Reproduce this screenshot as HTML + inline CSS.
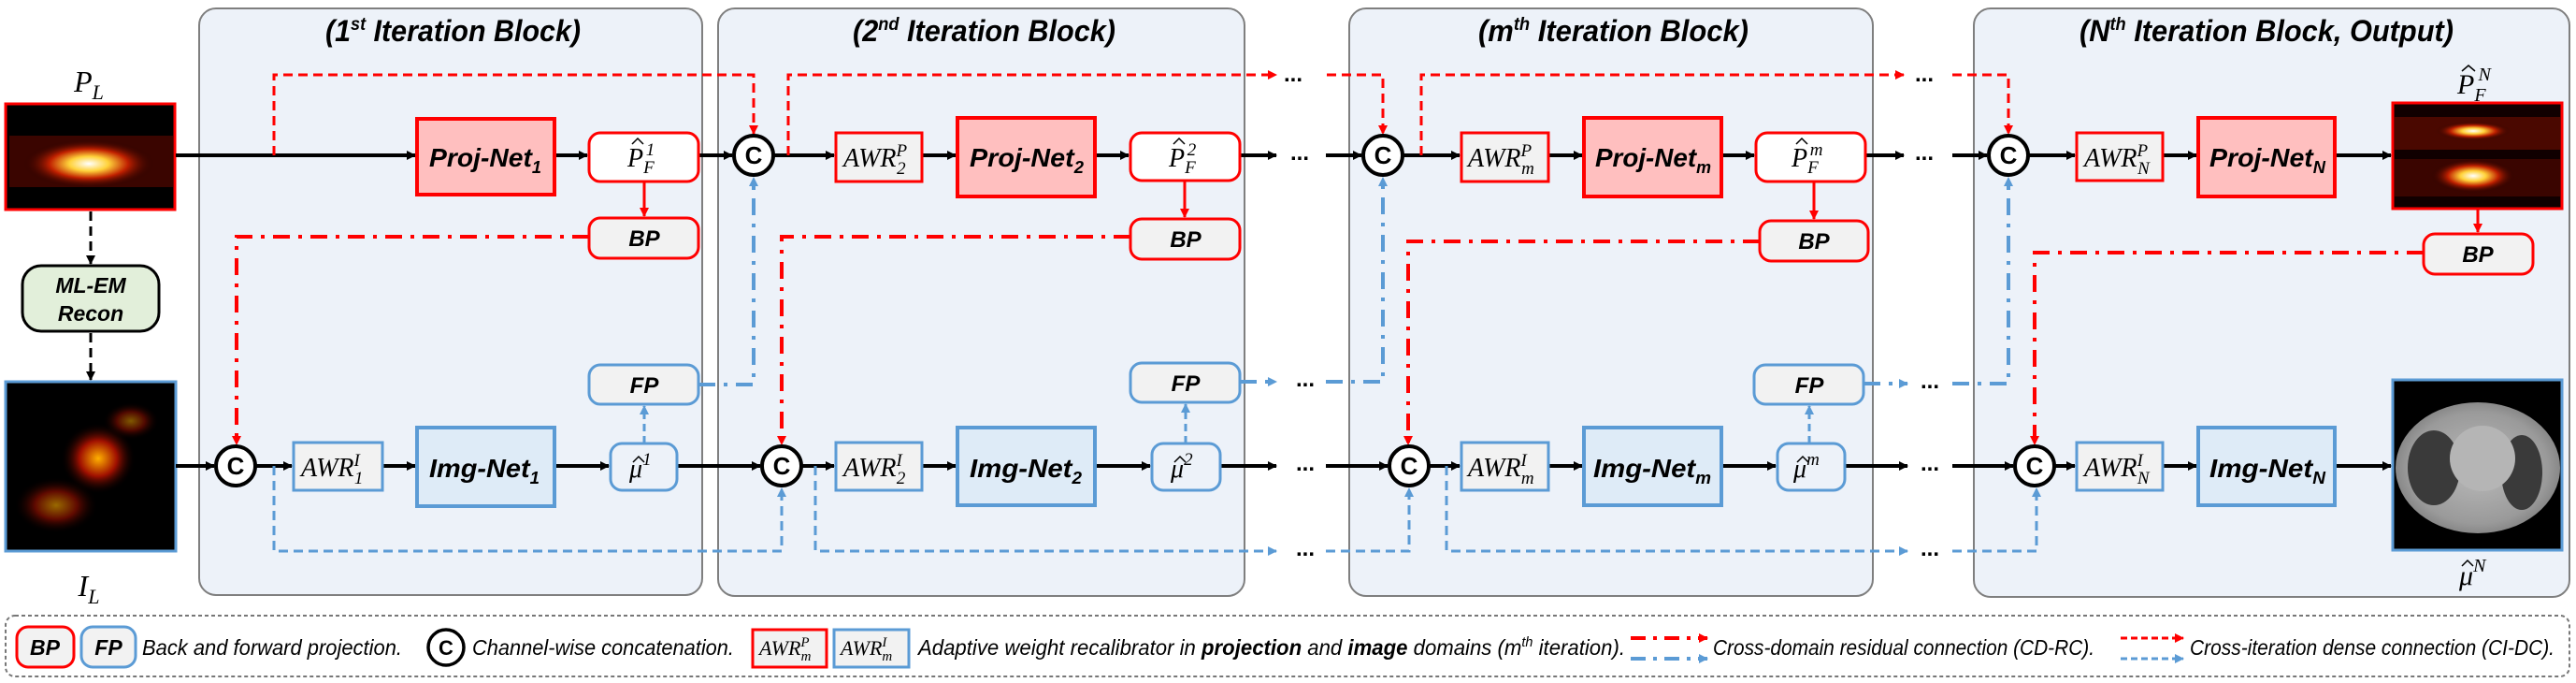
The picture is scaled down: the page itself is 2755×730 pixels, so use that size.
<!DOCTYPE html>
<html><head><meta charset="utf-8"><style>
html,body{margin:0;padding:0;background:#fff;}
svg{display:block;}
.t{font-family:"Liberation Sans",sans-serif;font-weight:bold;font-style:italic;}
.c{font-family:"Liberation Sans",sans-serif;font-weight:bold;font-style:normal;}
.m{font-family:"Liberation Serif",serif;font-style:italic;}
.l{font-family:"Liberation Sans",sans-serif;font-style:italic;font-size:23px;}
</style></head><body>
<svg width="2755" height="730" viewBox="0 0 2755 730" xmlns="http://www.w3.org/2000/svg">
<defs>
<marker id="ak" markerWidth="10" markerHeight="10" refX="9" refY="5" orient="auto" markerUnits="userSpaceOnUse"><path d="M0,0 L10,5 L0,10 z" fill="#000"/></marker>
<marker id="ar" markerWidth="10" markerHeight="10" refX="9" refY="5" orient="auto" markerUnits="userSpaceOnUse"><path d="M0,0 L10,5 L0,10 z" fill="#f00"/></marker>
<marker id="ab" markerWidth="10" markerHeight="10" refX="9" refY="5" orient="auto" markerUnits="userSpaceOnUse"><path d="M0,0 L10,5 L0,10 z" fill="#5b9bd5"/></marker>
<radialGradient id="hot" cx="0.5" cy="0.5" r="0.5"><stop offset="0" stop-color="#fff"/><stop offset="0.3" stop-color="#ffd23a"/><stop offset="0.6" stop-color="#c02000"/><stop offset="1" stop-color="#200000" stop-opacity="0"/></radialGradient>
<radialGradient id="hot2" cx="0.5" cy="0.5" r="0.5"><stop offset="0" stop-color="#ffb000"/><stop offset="0.5" stop-color="#a01000"/><stop offset="1" stop-color="#000" stop-opacity="0"/></radialGradient>
<radialGradient id="ct" cx="0.5" cy="0.5" r="0.5"><stop offset="0" stop-color="#bbb"/><stop offset="0.85" stop-color="#9a9a9a"/><stop offset="1" stop-color="#888"/></radialGradient>
</defs>

<!-- blocks -->
<g fill="#edf2f9" stroke="#7f7f7f" stroke-width="2">
<rect x="213" y="9" width="538" height="627" rx="18"/>
<rect x="768" y="9" width="563" height="628" rx="18"/>
<rect x="1443" y="9" width="560" height="628" rx="18"/>
<rect x="2111" y="9" width="637" height="629" rx="18"/>
</g>
<g class="t" font-size="32">
<text x="348" y="44" textLength="273" lengthAdjust="spacingAndGlyphs">(1<tspan font-size="19" dy="-12">st</tspan><tspan dy="12"> Iteration Block)</tspan></text>
<text x="912" y="44" textLength="281" lengthAdjust="spacingAndGlyphs">(2<tspan font-size="19" dy="-12">nd</tspan><tspan dy="12"> Iteration Block)</tspan></text>
<text x="1581" y="44" textLength="289" lengthAdjust="spacingAndGlyphs">(m<tspan font-size="19" dy="-12">th</tspan><tspan dy="12"> Iteration Block)</tspan></text>
<text x="2224" y="44" textLength="400" lengthAdjust="spacingAndGlyphs">(N<tspan font-size="19" dy="-12">th</tspan><tspan dy="12"> Iteration Block, Output)</tspan></text>
</g>

<!-- input images -->
<rect x="6" y="111" width="181" height="113" fill="#000" stroke="#f00" stroke-width="3"/>
<rect x="10" y="145" width="175" height="55" fill="#3a0500"/>
<ellipse cx="95" cy="175" rx="70" ry="26" fill="url(#hot)"/>
<text x="95" y="98" class="m" font-size="32" text-anchor="middle">P<tspan font-size="22" dy="8">L</tspan></text>
<rect x="6" y="408" width="182" height="181" fill="#000" stroke="#5b9bd5" stroke-width="3"/>
<ellipse cx="105" cy="490" rx="40" ry="38" fill="url(#hot2)"/>
<ellipse cx="60" cy="540" rx="45" ry="30" fill="url(#hot2)" opacity="0.6"/>
<ellipse cx="140" cy="450" rx="30" ry="20" fill="url(#hot2)" opacity="0.5"/>
<text x="95" y="637" class="m" font-size="32" text-anchor="middle">I<tspan font-size="22" dy="8">L</tspan></text>

<rect x="24" y="284" width="146" height="70" rx="20" fill="#e2efda" stroke="#000" stroke-width="3"/>
<text x="97" y="313" class="t" font-size="23" text-anchor="middle">ML-EM</text>
<text x="97" y="343" class="t" font-size="23" text-anchor="middle">Recon</text>
<g stroke="#000" stroke-width="3" stroke-dasharray="10 6" fill="none">
<line x1="97" y1="226" x2="97" y2="282" marker-end="url(#ak)"/>
<line x1="97" y1="356" x2="97" y2="406" marker-end="url(#ak)"/>
</g>

<!-- output images -->
<rect x="2559" y="110" width="181" height="113" fill="#100000" stroke="#f00" stroke-width="3"/>
<rect x="2561" y="125" width="177" height="35" fill="#4a0800"/>
<rect x="2561" y="170" width="177" height="40" fill="#3a0500"/>
<ellipse cx="2645" cy="140" rx="40" ry="10" fill="url(#hot)"/>
<ellipse cx="2645" cy="188" rx="45" ry="18" fill="url(#hot)"/>
<text x="2628" y="100" class="m" font-size="30">P<tspan font-size="20" dy="8">F</tspan><tspan font-size="20" dx="-8" dy="-22">N</tspan></text>
<path d="M2633,76 L2640,70 L2647,76" fill="none" stroke="#000" stroke-width="1.5"/>
<rect x="2559" y="406" width="181" height="182" fill="#000" stroke="#5b9bd5" stroke-width="3"/>
<ellipse cx="2650" cy="500" rx="88" ry="70" fill="url(#ct)"/>
<ellipse cx="2603" cy="500" rx="28" ry="40" fill="#3a3a3a"/>
<ellipse cx="2697" cy="505" rx="22" ry="40" fill="#3a3a3a"/>
<ellipse cx="2655" cy="490" rx="35" ry="35" fill="#b5b5b5"/>
<text x="2630" y="625" class="m" font-size="30">μ<tspan font-size="20" dy="-14">N</tspan></text>
<path d="M2633,605 L2639,599 L2645,605" fill="none" stroke="#000" stroke-width="1.5"/>

<!-- main black lines -->
<g stroke="#000" stroke-width="4" fill="none" marker-end="url(#ak)">
<line x1="188" y1="166" x2="444" y2="166"/>
<line x1="593" y1="166" x2="628" y2="166"/>
<line x1="747" y1="166" x2="783" y2="166"/>
<line x1="827" y1="166" x2="892" y2="166"/>
<line x1="986" y1="166" x2="1022" y2="166"/>
<line x1="1171" y1="166" x2="1207" y2="166"/>
<line x1="1326" y1="166" x2="1365" y2="166"/>
<line x1="1418" y1="166" x2="1456" y2="166"/>
<line x1="1500" y1="166" x2="1561" y2="166"/>
<line x1="1656" y1="166" x2="1692" y2="166"/>
<line x1="1841" y1="166" x2="1876" y2="166"/>
<line x1="1995" y1="166" x2="2036" y2="166"/>
<line x1="2088" y1="166" x2="2125" y2="166"/>
<line x1="2169" y1="166" x2="2219" y2="166"/>
<line x1="2313" y1="166" x2="2349" y2="166"/>
<line x1="2497" y1="166" x2="2557" y2="166"/>
<line x1="188" y1="498" x2="229" y2="498"/>
<line x1="273" y1="498" x2="312" y2="498"/>
<line x1="409" y1="498" x2="444" y2="498"/>
<line x1="593" y1="498" x2="651" y2="498"/>
<line x1="724" y1="498" x2="813" y2="498"/>
<line x1="857" y1="498" x2="892" y2="498"/>
<line x1="986" y1="498" x2="1022" y2="498"/>
<line x1="1171" y1="498" x2="1230" y2="498"/>
<line x1="1305" y1="498" x2="1365" y2="498"/>
<line x1="1418" y1="498" x2="1484" y2="498"/>
<line x1="1528" y1="498" x2="1561" y2="498"/>
<line x1="1656" y1="498" x2="1692" y2="498"/>
<line x1="1841" y1="498" x2="1899" y2="498"/>
<line x1="1973" y1="498" x2="2040" y2="498"/>
<line x1="2088" y1="498" x2="2153" y2="498"/>
<line x1="2197" y1="498" x2="2219" y2="498"/>
<line x1="2313" y1="498" x2="2349" y2="498"/>
<line x1="2497" y1="498" x2="2557" y2="498"/>
</g>

<!-- red dashed CI-DC -->
<g stroke="#f00" stroke-width="3" stroke-dasharray="10 6" fill="none" marker-end="url(#ar)">
<polyline points="293,166 293,80 806,80 806,143"/>
<polyline points="843,166 843,80 1365,80"/>
<polyline points="1419,80 1479,80 1479,143"/>
<polyline points="1520,166 1520,80 2036,80"/>
<polyline points="2088,80 2148,80 2148,143"/>
</g>
<g stroke="#f00" stroke-width="3" fill="none" marker-end="url(#ar)">
<line x1="689" y1="194" x2="689" y2="231"/>
<line x1="1267" y1="193" x2="1267" y2="232"/>
<line x1="1940" y1="195" x2="1940" y2="234"/>
<line x1="2650" y1="224" x2="2650" y2="248"/>
</g>
<!-- red dash-dot CD-RC -->
<g stroke="#f00" stroke-width="4" stroke-dasharray="18 9 4 9" fill="none" marker-end="url(#ar)">
<polyline points="630,253 253,253 253,475"/>
<polyline points="1209,253 836,253 836,475"/>
<polyline points="1882,258 1506,258 1506,475"/>
<polyline points="2592,270 2176,270 2176,475"/>
</g>
<!-- blue dash-dot -->
<g stroke="#5b9bd5" stroke-width="4" stroke-dasharray="18 9 4 9" fill="none" marker-end="url(#ab)">
<polyline points="747,411 806,411 806,190"/>
<line x1="1326" y1="408" x2="1365" y2="408"/>
<polyline points="1418,408 1479,408 1479,190"/>
<line x1="1993" y1="410" x2="2040" y2="410"/>
<polyline points="2088,410 2148,410 2148,190"/>
</g>
<g stroke="#5b9bd5" stroke-width="3" stroke-dasharray="8 5" fill="none" marker-end="url(#ab)">
<line x1="689" y1="474" x2="689" y2="434"/>
<line x1="1268" y1="474" x2="1268" y2="432"/>
<line x1="1935" y1="474" x2="1935" y2="434"/>
</g>
<!-- blue dashed bottom -->
<g stroke="#5b9bd5" stroke-width="3" stroke-dasharray="10 6" fill="none" marker-end="url(#ab)">
<polyline points="293,498 293,589 836,589 836,522"/>
<polyline points="872,498 872,589 1365,589"/>
<polyline points="1418,589 1507,589 1507,522"/>
<polyline points="1547,498 1547,589 2040,589"/>
<polyline points="2088,589 2178,589 2178,522"/>
</g>

<!-- ellipsis -->
<g class="c" font-size="24" text-anchor="middle">
<text x="1383" y="87">...</text><text x="2058" y="87">...</text>
<text x="1390" y="171">...</text><text x="2058" y="171">...</text>
<text x="1396" y="413">...</text><text x="2064" y="415">...</text>
<text x="1396" y="503">...</text><text x="2064" y="503">...</text>
<text x="1396" y="594">...</text><text x="2064" y="594">...</text>
</g>

<!-- C circles -->
<g fill="#fff" stroke="#000" stroke-width="4">
<circle cx="252" cy="498" r="21"/><circle cx="806" cy="166" r="21"/><circle cx="836" cy="498" r="21"/>
<circle cx="1479" cy="166" r="21"/><circle cx="1507" cy="498" r="21"/>
<circle cx="2148" cy="166" r="21"/><circle cx="2176" cy="498" r="21"/>
</g>
<g class="c" font-size="26" text-anchor="middle">
<text x="252" y="507">C</text><text x="806" y="175">C</text><text x="836" y="507">C</text>
<text x="1479" y="175">C</text><text x="1507" y="507">C</text>
<text x="2148" y="175">C</text><text x="2176" y="507">C</text>
</g>

<!-- Proj-Net / Img-Net -->
<g fill="#ffbfbf" stroke="#f00" stroke-width="4">
<rect x="446" y="127" width="147" height="81"/><rect x="1024" y="126" width="147" height="84"/>
<rect x="1694" y="126" width="147" height="84"/><rect x="2351" y="126" width="146" height="84"/>
</g>
<g fill="#deebf7" stroke="#5b9bd5" stroke-width="4">
<rect x="446" y="457" width="147" height="84"/><rect x="1024" y="457" width="147" height="83"/>
<rect x="1694" y="457" width="147" height="83"/><rect x="2351" y="457" width="146" height="83"/>
</g>
<g class="t" font-size="28">
<text x="459" y="178" textLength="120" lengthAdjust="spacingAndGlyphs">Proj-Net<tspan font-size="18" dy="7">1</tspan></text>
<text x="1037" y="178" textLength="122" lengthAdjust="spacingAndGlyphs">Proj-Net<tspan font-size="18" dy="7">2</tspan></text>
<text x="1706" y="178" textLength="124" lengthAdjust="spacingAndGlyphs">Proj-Net<tspan font-size="18" dy="7">m</tspan></text>
<text x="2363" y="178" textLength="124" lengthAdjust="spacingAndGlyphs">Proj-Net<tspan font-size="18" dy="7">N</tspan></text>
<text x="459" y="510" textLength="118" lengthAdjust="spacingAndGlyphs">Img-Net<tspan font-size="18" dy="7">1</tspan></text>
<text x="1037" y="510" textLength="120" lengthAdjust="spacingAndGlyphs">Img-Net<tspan font-size="18" dy="7">2</tspan></text>
<text x="1704" y="510" textLength="126" lengthAdjust="spacingAndGlyphs">Img-Net<tspan font-size="18" dy="7">m</tspan></text>
<text x="2363" y="510" textLength="124" lengthAdjust="spacingAndGlyphs">Img-Net<tspan font-size="18" dy="7">N</tspan></text>
</g>

<!-- AWR boxes -->
<g fill="#f2f2f2" stroke="#f00" stroke-width="3">
<rect x="894" y="142" width="92" height="52"/><rect x="1563" y="142" width="93" height="52"/><rect x="2221" y="142" width="92" height="51"/>
</g>
<g fill="#f2f2f2" stroke="#5b9bd5" stroke-width="3">
<rect x="314" y="473" width="95" height="51"/><rect x="894" y="473" width="92" height="51"/><rect x="1563" y="473" width="93" height="51"/><rect x="2221" y="473" width="92" height="51"/>
</g>
<g class="m" font-size="28">
<text x="322" y="509">AWR<tspan font-size="19" dy="-11">I</tspan><tspan font-size="19" dx="-6" dy="19">1</tspan></text>
<text x="902" y="178">AWR<tspan font-size="19" dy="-11">P</tspan><tspan font-size="19" dx="-11" dy="19">2</tspan></text>
<text x="902" y="509">AWR<tspan font-size="19" dy="-11">I</tspan><tspan font-size="19" dx="-6" dy="19">2</tspan></text>
<text x="1570" y="178">AWR<tspan font-size="19" dy="-11">P</tspan><tspan font-size="19" dx="-11" dy="19">m</tspan></text>
<text x="1570" y="509">AWR<tspan font-size="19" dy="-11">I</tspan><tspan font-size="19" dx="-6" dy="19">m</tspan></text>
<text x="2229" y="178">AWR<tspan font-size="19" dy="-11">P</tspan><tspan font-size="19" dx="-11" dy="19">N</tspan></text>
<text x="2229" y="509">AWR<tspan font-size="19" dy="-11">I</tspan><tspan font-size="19" dx="-6" dy="19">N</tspan></text>
</g>

<!-- P hat boxes -->
<g fill="#fff" stroke="#f00" stroke-width="3">
<rect x="630" y="142" width="117" height="52" rx="12"/><rect x="1209" y="142" width="117" height="51" rx="12"/><rect x="1878" y="142" width="117" height="52" rx="12"/>
</g>
<g class="m" font-size="28">
<text x="671" y="178">P<tspan font-size="19" dy="7">F</tspan><tspan font-size="19" dx="-9" dy="-19">1</tspan></text>
<text x="1250" y="178">P<tspan font-size="19" dy="7">F</tspan><tspan font-size="19" dx="-9" dy="-19">2</tspan></text>
<text x="1916" y="178">P<tspan font-size="19" dy="7">F</tspan><tspan font-size="19" dx="-9" dy="-19">m</tspan></text>
</g>
<g fill="none" stroke="#000" stroke-width="1.5">
<path d="M676,154 L682,148 L688,154"/><path d="M1255,154 L1261,148 L1267,154"/><path d="M1921,154 L1927,148 L1933,154"/>
</g>
<!-- mu hat boxes -->
<g fill="#edf2f9" stroke="#5b9bd5" stroke-width="3">
<rect x="653" y="474" width="71" height="50" rx="12"/><rect x="1232" y="474" width="73" height="50" rx="12"/><rect x="1901" y="474" width="72" height="50" rx="12"/>
</g>
<g class="m" font-size="28">
<text x="673" y="510">μ<tspan font-size="19" dy="-13">1</tspan></text>
<text x="1252" y="510">μ<tspan font-size="19" dy="-13">2</tspan></text>
<text x="1918" y="510">μ<tspan font-size="19" dy="-13">m</tspan></text>
</g>
<g fill="none" stroke="#000" stroke-width="1.5">
<path d="M677,494 L683,488 L689,494"/><path d="M1256,494 L1262,488 L1268,494"/><path d="M1922,494 L1928,488 L1934,494"/>
</g>

<!-- BP / FP -->
<g fill="#f2f2f2" stroke="#f00" stroke-width="3">
<rect x="630" y="233" width="117" height="43" rx="12"/><rect x="1209" y="234" width="117" height="43" rx="12"/>
<rect x="1882" y="236" width="116" height="43" rx="12"/><rect x="2592" y="250" width="117" height="43" rx="12"/>
</g>
<g fill="#f2f2f2" stroke="#5b9bd5" stroke-width="3">
<rect x="630" y="390" width="117" height="42" rx="12"/><rect x="1209" y="388" width="117" height="42" rx="12"/><rect x="1876" y="390" width="117" height="42" rx="12"/>
</g>
<g class="t" font-size="24" text-anchor="middle">
<text x="689" y="263">BP</text><text x="1268" y="264">BP</text><text x="1940" y="266">BP</text><text x="2650" y="280">BP</text>
<text x="689" y="420">FP</text><text x="1268" y="418">FP</text><text x="1935" y="420">FP</text>
</g>

<!-- legend -->
<rect x="6" y="658" width="2742" height="65" rx="10" fill="#fff" stroke="#777" stroke-width="2" stroke-dasharray="4 3"/>
<rect x="18" y="670" width="61" height="43" rx="12" fill="#f2f2f2" stroke="#f00" stroke-width="3"/>
<rect x="87" y="670" width="58" height="43" rx="12" fill="#f2f2f2" stroke="#5b9bd5" stroke-width="3"/>
<text x="48" y="700" class="t" font-size="23" text-anchor="middle">BP</text>
<text x="116" y="700" class="t" font-size="23" text-anchor="middle">FP</text>
<text x="152" y="700" class="l" textLength="278" lengthAdjust="spacingAndGlyphs">Back and forward projection.</text>
<circle cx="477" cy="692" r="19" fill="#fff" stroke="#000" stroke-width="3.5"/>
<text x="477" y="700" class="c" font-size="22" text-anchor="middle">C</text>
<text x="505" y="700" class="l" textLength="280" lengthAdjust="spacingAndGlyphs">Channel-wise concatenation.</text>
<rect x="805" y="673" width="79" height="40" fill="#f2f2f2" stroke="#f00" stroke-width="3"/>
<rect x="892" y="673" width="80" height="40" fill="#f2f2f2" stroke="#5b9bd5" stroke-width="3"/>
<text x="812" y="700" class="m" font-size="22">AWR<tspan font-size="15" dy="-9">P</tspan><tspan font-size="15" dx="-9" dy="15">m</tspan></text>
<text x="899" y="700" class="m" font-size="22">AWR<tspan font-size="15" dy="-9">I</tspan><tspan font-size="15" dx="-5" dy="15">m</tspan></text>
<text x="982" y="700" class="l" textLength="756" lengthAdjust="spacingAndGlyphs">Adaptive weight recalibrator in <tspan font-weight="bold">projection</tspan> and <tspan font-weight="bold">image</tspan> domains (m<tspan font-size="15" dy="-9">th</tspan><tspan dy="9"> iteration).</tspan></text>
<line x1="1744" y1="682" x2="1826" y2="682" stroke="#f00" stroke-width="4" stroke-dasharray="16 8 4 8" marker-end="url(#ar)"/>
<line x1="1744" y1="704" x2="1826" y2="704" stroke="#5b9bd5" stroke-width="4" stroke-dasharray="16 8 4 8" marker-end="url(#ab)"/>
<text x="1832" y="700" class="l" textLength="408" lengthAdjust="spacingAndGlyphs">Cross-domain residual connection (CD-RC).</text>
<line x1="2268" y1="682" x2="2335" y2="682" stroke="#f00" stroke-width="3" stroke-dasharray="7 4" marker-end="url(#ar)"/>
<line x1="2268" y1="704" x2="2335" y2="704" stroke="#5b9bd5" stroke-width="3" stroke-dasharray="7 4" marker-end="url(#ab)"/>
<text x="2342" y="700" class="l" textLength="390" lengthAdjust="spacingAndGlyphs">Cross-iteration dense connection (CI-DC).</text>
</svg>
</body></html>
